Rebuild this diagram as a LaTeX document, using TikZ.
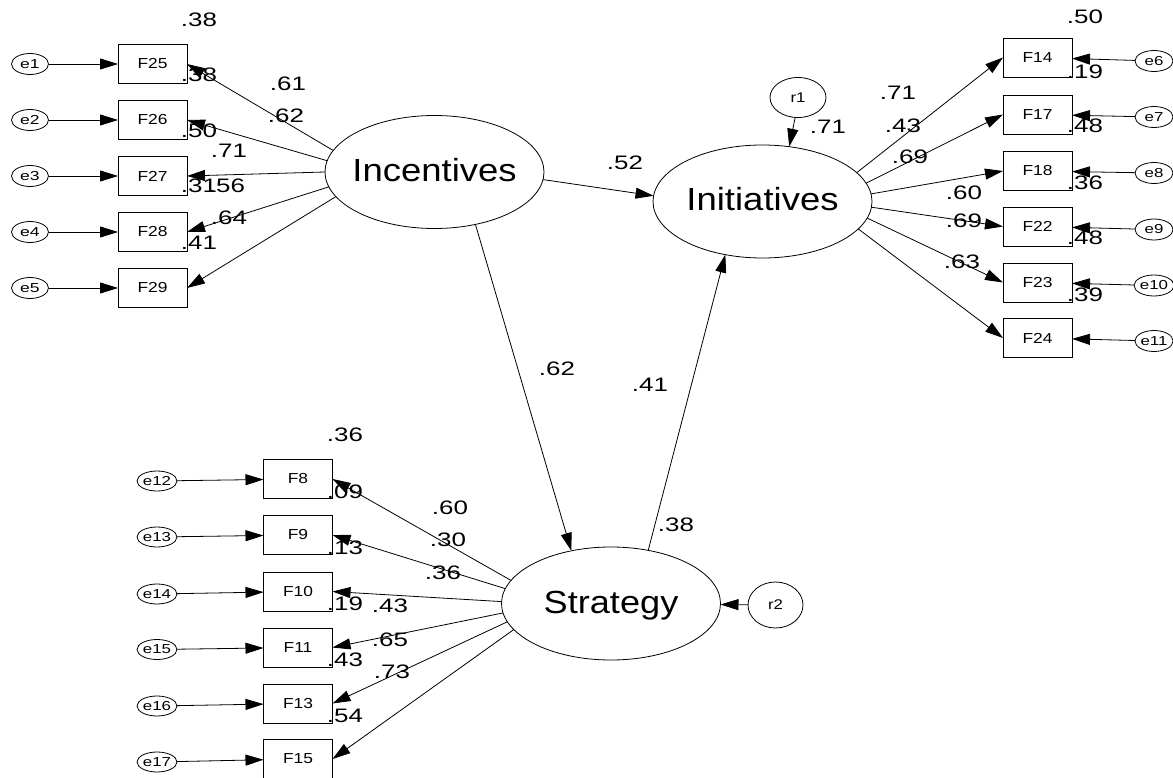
\documentclass[tikz,border=0pt]{standalone}
\usepackage{fontspec}
\setmainfont{Liberation Sans}
\usetikzlibrary{arrows.meta,shapes.geometric}
\newcommand{\sx}[2]{\scalebox{#1}[1]{#2}}
\newcommand{\cf}[1]{\scalebox{1.33}[1]{#1}}
\tikzset{
  lat/.style={draw, ellipse, line width=0.8pt, minimum width=219pt, minimum height=113pt,
    inner sep=0pt, outer sep=0pt, text height=19pt, text depth=0pt,
    font=\fontsize{32}{32}\selectfont},
  obs/.style={draw, rectangle, line width=0.8pt, minimum width=69pt, minimum height=39pt,
    inner sep=0pt, outer sep=0pt, font=\fontsize{14.5}{14.5}\selectfont},
  err/.style={draw, ellipse, line width=0.8pt, minimum width=37pt, minimum height=21pt,
    inner sep=0pt, outer sep=0pt, font=\fontsize{13}{13}\selectfont},
  res/.style={draw, ellipse, line width=0.8pt, inner sep=0pt, outer sep=0pt,
    font=\fontsize{14}{14}\selectfont},
  coef/.style={inner sep=0pt, font=\fontsize{19.5}{19.5}\selectfont},
  arr/.style={draw, line width=0.8pt, -{Triangle[length=18pt,width=11pt]}},
}
\begin{document}
\begin{tikzpicture}[x=1pt,y=-1pt]
\useasboundingbox (0,0) rectangle (1173,778);
% latent variables
\node[lat] (inc) at (434.5,172) {\makebox[0pt]{\sx{1.14}{Incentives}}};
\node[lat] (ini) at (762.5,201.5) {\makebox[0pt]{\sx{1.14}{Initiatives}}};
\node[lat] (str) at (611,603.5) {\makebox[0pt]{\sx{1.13}{Strategy}}};
% residuals
\node[res, minimum width=56pt, minimum height=40pt] (r1) at (798,97.5) {\sx{1.2}{r1}};
\node[res, minimum width=55pt, minimum height=46pt] (r2) at (775.5,605) {\sx{1.2}{r2}};
% left indicators
\foreach \n/\y [count=\i] in {25/64,26/120,27/176,28/232,29/288}{
  \node[obs] (f\n) at (152.5,\y) {\sx{1.2}{F\n}};
  \node[err] (e\i) at (30,\y) {\sx{1.35}{e\i}};
  \draw[arr] (e\i) -- (f\n);
}
% right indicators
\foreach \n/\y/\ey/\i in {14/57.5/61/6,17/114.5/117/7,18/171/173/8,22/226.5/229.5/9,23/282.5/285.5/10,24/338/341/11}{
  \node[obs] (f\n) at (1037.5,\y) {\sx{1.2}{F\n}};
  \node[err, minimum width=38pt] (e\i) at (1154,\ey) {\sx{1.3}{e\i}};
  \draw[arr] (e\i) -- (f\n);
}
% bottom indicators
\foreach \n/\y/\ey/\i in {8/479/481/12,9/535/537/13,10/591.5/594/14,11/647.5/649.5/15,13/703.5/706/16,15/759/762/17}{
  \node[obs] (f\n) at (298,\y) {\sx{1.2}{F\n}};
  \node[err, minimum width=39pt, minimum height=20pt] (e\i) at (157,\ey) {\sx{1.3}{e\i}};
  \draw[arr] (e\i) -- (f\n);
}
% loadings
\draw[arr] (inc.168) -- (f25.east);
\draw[arr] (inc.174) -- (f26.east);
\draw[arr] (inc.180) -- (f27.east);
\draw[arr] (inc.188) -- (f28.east);
\draw[arr] (inc.194) -- (f29.east);
\draw[arr] (ini.17) -- (f14.west);
\draw[arr] (ini.10.6) -- (f17.west);
\draw[arr] (ini.4.4) -- (f18.west);
\draw[arr] (ini.-3) -- (f22.west);
\draw[arr] (ini.-9.3) -- (f23.west);
\draw[arr] (ini.-16) -- (f24.west);
\draw[arr] (str.167) -- (f8.east);
\draw[arr] (str.172) -- (f9.east);
\draw[arr] (str.179) -- (f10.east);
\draw[arr] (str.185) -- (f11.east);
\draw[arr] (str.190) -- (f13.east);
\draw[arr] (str.195) -- (f15.east);
% structural paths
\draw[arr] (inc.-4) -- (ini.177.6);
\draw[arr] (inc.-52) -- (str.127);
\draw[arr] (str.55) -- (ini.235);
\draw[arr] (r1.262) -- (ini.64);
\draw[arr] (r2) -- (str);
% coefficients left
\node[coef] (c1) at (199,20) {\cf{.38}};
\node[coef] (c2) at (199,75) {\cf{.38}};
\node[coef] (c3) at (288,84) {\cf{.61}};
\node[coef] (c4) at (286,116) {\cf{.62}};
\node[coef] (c5) at (199,131) {\cf{.50}};
\node[coef] (c6) at (229,151) {\cf{.71}};
\node[coef] (c7) at (199,186) {\cf{.31}};
\node[coef] (c8) at (227,186) {\cf{.56}};
\node[coef] (c9) at (229,218) {\cf{.64}};
\node[coef] (c10) at (199,243) {\cf{.41}};
% coefficients right
\node[coef] (c11) at (1085,17) {\cf{.50}};
\node[coef] (c12) at (1085,72) {\cf{.19}};
\node[coef] (c13) at (1085,126) {\cf{.48}};
\node[coef] (c14) at (1085,183) {\cf{.36}};
\node[coef] (c15) at (1085,238) {\cf{.48}};
\node[coef] (c16) at (1085,295) {\cf{.39}};
\node[coef] (c17) at (898,93) {\cf{.71}};
\node[coef] (c18) at (903,126) {\cf{.43}};
\node[coef] (c19) at (910,157) {\cf{.69}};
\node[coef] (c20) at (964,193) {\cf{.60}};
\node[coef] (c21) at (964,221) {\cf{.69}};
\node[coef] (c22) at (962,262) {\cf{.63}};
\node[coef] (c23) at (828,127) {\cf{.71}};
\node[coef] (c24) at (625,163) {\cf{.52}};
% coefficients middle
\node[coef] (c25) at (557,369) {\cf{.62}};
\node[coef] (c26) at (650,385) {\cf{.41}};
\node[coef] (c27) at (676,525) {\cf{.38}};
% coefficients bottom
\node[coef] (c28) at (345,435) {\cf{.36}};
\node[coef] (c29) at (345,492) {\cf{.09}};
\node[coef] (c30) at (345,548) {\cf{.13}};
\node[coef] (c31) at (345,604) {\cf{.19}};
\node[coef] (c32) at (345,660) {\cf{.43}};
\node[coef] (c33) at (345,716) {\cf{.54}};
\node[coef] (c34) at (450,508) {\cf{.60}};
\node[coef] (c35) at (448,540) {\cf{.30}};
\node[coef] (c36) at (443,573) {\cf{.36}};
\node[coef] (c37) at (390,606) {\cf{.43}};
\node[coef] (c38) at (390,640) {\cf{.65}};
\node[coef] (c39) at (392,672) {\cf{.73}};
\end{tikzpicture}
\end{document}
